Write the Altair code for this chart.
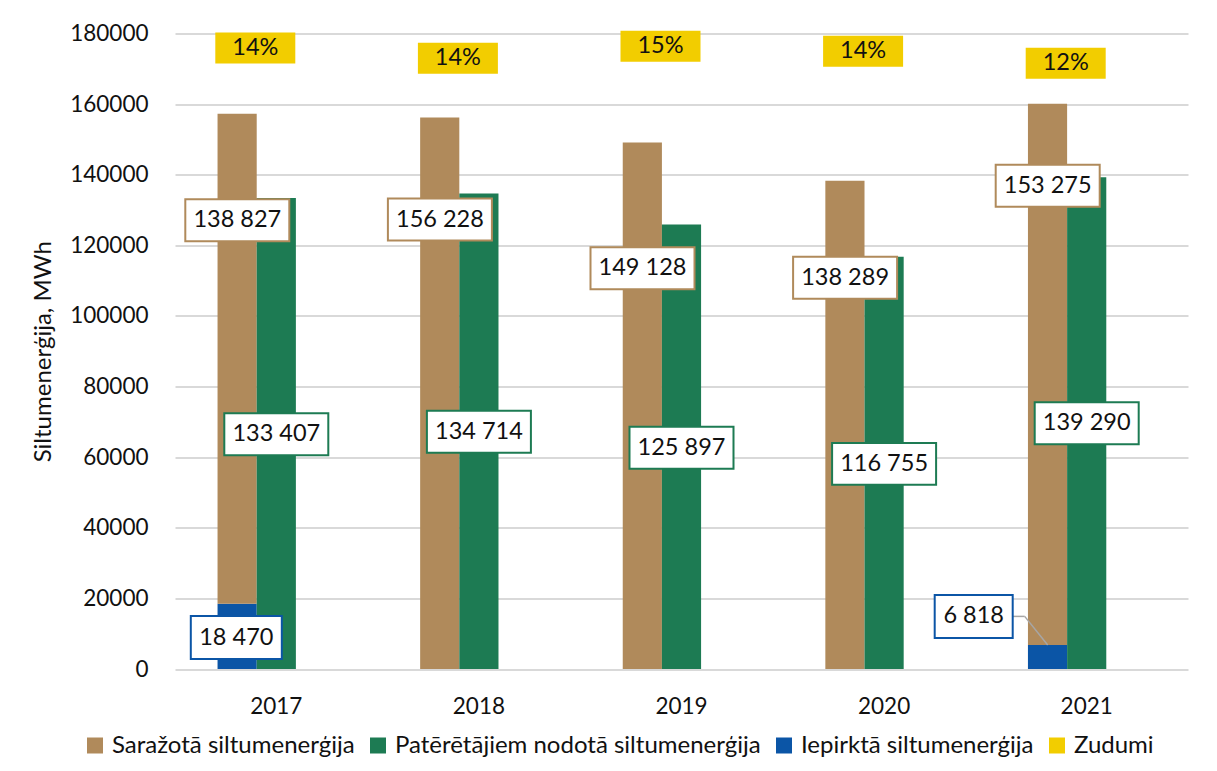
import altair as alt
import pandas as pd

# ---------------- data ----------------
years = ["2017", "2018", "2019", "2020", "2021"]
produced = [138827, 156228, 149128, 138289, 153275]    # Saražotā siltumenerģija
delivered = [133407, 134714, 125897, 116755, 139290]   # Patērētājiem nodotā siltumenerģija
purchased = [18470, 0, 0, 0, 6818]                     # Iepirktā siltumenerģija
losses_pct = ["14%", "14%", "15%", "14%", "12%"]       # Zudumi

series_names = ["Saražotā siltumenerģija", "Patērētājiem nodotā siltumenerģija",
                "Iepirktā siltumenerģija", "Zudumi"]
series_colors = ["#B08A5B", "#1D7B53", "#0B55A6", "#F2CD00"]

# label anchor heights (value-axis units)
loss_label_y = [175900, 173000, 176400, 175000, 171600]
produced_label_y = [127100, 127300, 113500, 110800, 136900]
delivered_label_y = [66500, 67200, 62700, 58100, 69600]
purchased_label_y = [8900, 0, 0, 0, 14900]

FONT = "Lato"
TXT = "#111111"


def fmt(v):
    return "{:,}".format(v).replace(",", " ")


def box(w, h):
    r = h / w
    return f"M-1,{-r:.4f}H1V{r:.4f}H-1Z"


# ---------------- tables ----------------
rows = []
for i, y in enumerate(years):
    if purchased[i] > 0:
        rows.append(dict(year=y, series=series_names[2], slot="A", ord=0, value=purchased[i]))
    rows.append(dict(year=y, series=series_names[0], slot="A", ord=1, value=produced[i]))
    rows.append(dict(year=y, series=series_names[1], slot="B", ord=0, value=delivered[i]))
bar_df = pd.DataFrame(rows)

loss_df = pd.DataFrame({"year": years, "text": losses_pct, "ly": loss_label_y})
prod_df = pd.DataFrame({"year": years, "text": [fmt(v) for v in produced], "ly": produced_label_y})
deli_df = pd.DataFrame({"year": years, "text": [fmt(v) for v in delivered], "ly": delivered_label_y})
pur17_df = pd.DataFrame({"year": [years[0]], "text": [fmt(purchased[0])], "ly": [purchased_label_y[0]]})
pur21_df = pd.DataFrame({"year": [years[4]], "text": [fmt(purchased[4])], "ly": [purchased_label_y[4]]})
lead_df = pd.DataFrame({"year": [years[4]], "ly": [purchased_label_y[4]], "ly2": [purchased[4]]})

x_enc = alt.X("year:N", title=None,
              scale=alt.Scale(type="band", domain=years, paddingInner=0.42, paddingOuter=0.21),
              axis=alt.Axis(labelAngle=0, labelFontSize=22.5, labelFont=FONT, labelColor=TXT,
                            labelPadding=26, ticks=False, tickSize=0, domain=False, grid=False))
y_scale = alt.Scale(domain=[0, 180000], nice=False, zero=True)

bars = alt.Chart(bar_df).transform_stack(
    stack="value", as_=["v0", "v1"], groupby=["year", "slot"],
    sort=[alt.SortField("ord", order="ascending")]
).mark_bar().encode(
    x=x_enc,
    xOffset=alt.XOffset("slot:N", scale=alt.Scale(domain=["A", "B", "C"])),
    y=alt.Y("v0:Q", scale=y_scale, title="Siltumenerģija, MWh",
            axis=alt.Axis(values=list(range(0, 180001, 20000)), format="d",
                          labelFontSize=22.5, labelFont=FONT, labelColor=TXT, labelPadding=27,
                          ticks=False, tickSize=0, domain=False, grid=True,
                          gridColor="#D9D9D9", gridWidth=2,
                          titleFontSize=24, titleFont=FONT, titleFontWeight="normal",
                          titleColor=TXT, titlePadding=14)),
    y2="v1:Q",
    color=alt.Color("series:N", scale=alt.Scale(domain=series_names, range=series_colors),
                    legend=alt.Legend(title=None, orient="none", legendX=-92, legendY=700,
                                      direction="horizontal", columns=4, symbolType="square",
                                      symbolSize=256, symbolStrokeWidth=0, labelFontSize=24,
                                      labelFont=FONT, labelColor=TXT, columnPadding=11,
                                      labelLimit=600, labelOffset=5, padding=0)),
)


def label_layer(df, w, h, off, stroke, fill="white", sw=2.0):
    bx = alt.Chart(df).mark_point(
        shape=box(w, h), size=w * w, filled=True, fill=fill, stroke=stroke,
        strokeWidth=sw, opacity=1, fillOpacity=1, xOffset=off
    ).encode(x=alt.X("year:N"), y=alt.Y("ly:Q", scale=y_scale))
    tx = alt.Chart(df).mark_text(
        font=FONT, fontSize=23.5, color=TXT, align="center", baseline="middle", xOffset=off
    ).encode(x=alt.X("year:N"), y=alt.Y("ly:Q", scale=y_scale), text="text:N")
    return [bx, tx]


lead1 = alt.Chart(lead_df).mark_rule(color="#A6A6A6", strokeWidth=1.5, xOffset=-74, x2Offset=-62).encode(
    x=alt.X("year:N", bandPosition=0.5), x2=alt.X2("year:N", bandPosition=0.5),
    y=alt.Y("ly:Q", scale=y_scale), y2="ly:Q")
lead2 = alt.Chart(lead_df).mark_rule(color="#A6A6A6", strokeWidth=1.5, xOffset=-62, x2Offset=-39).encode(
    x=alt.X("year:N", bandPosition=0.5), x2=alt.X2("year:N", bandPosition=0.5),
    y=alt.Y("ly:Q", scale=y_scale), y2="ly2:Q")

layers = [bars, lead1, lead2]
layers += label_layer(loss_df, 80, 31, -21, series_colors[3], fill=series_colors[3], sw=0)
layers += label_layer(prod_df, 104, 42, -39, series_colors[0])
layers += label_layer(deli_df, 104, 42, 0, series_colors[1])
layers += label_layer(pur17_df, 91, 43, -40, series_colors[2])
layers += label_layer(pur21_df, 78, 43, -113, series_colors[2])

chart = alt.layer(*layers).properties(
    width=1013, height=635.5,
    autosize=alt.AutoSizeParams(type="none"),
    padding={"left": 167, "top": 25.5, "right": 15, "bottom": 90},
).configure_view(stroke=None)

chart.save("out.html", embed_options={"renderer": "svg", "actions": False})
